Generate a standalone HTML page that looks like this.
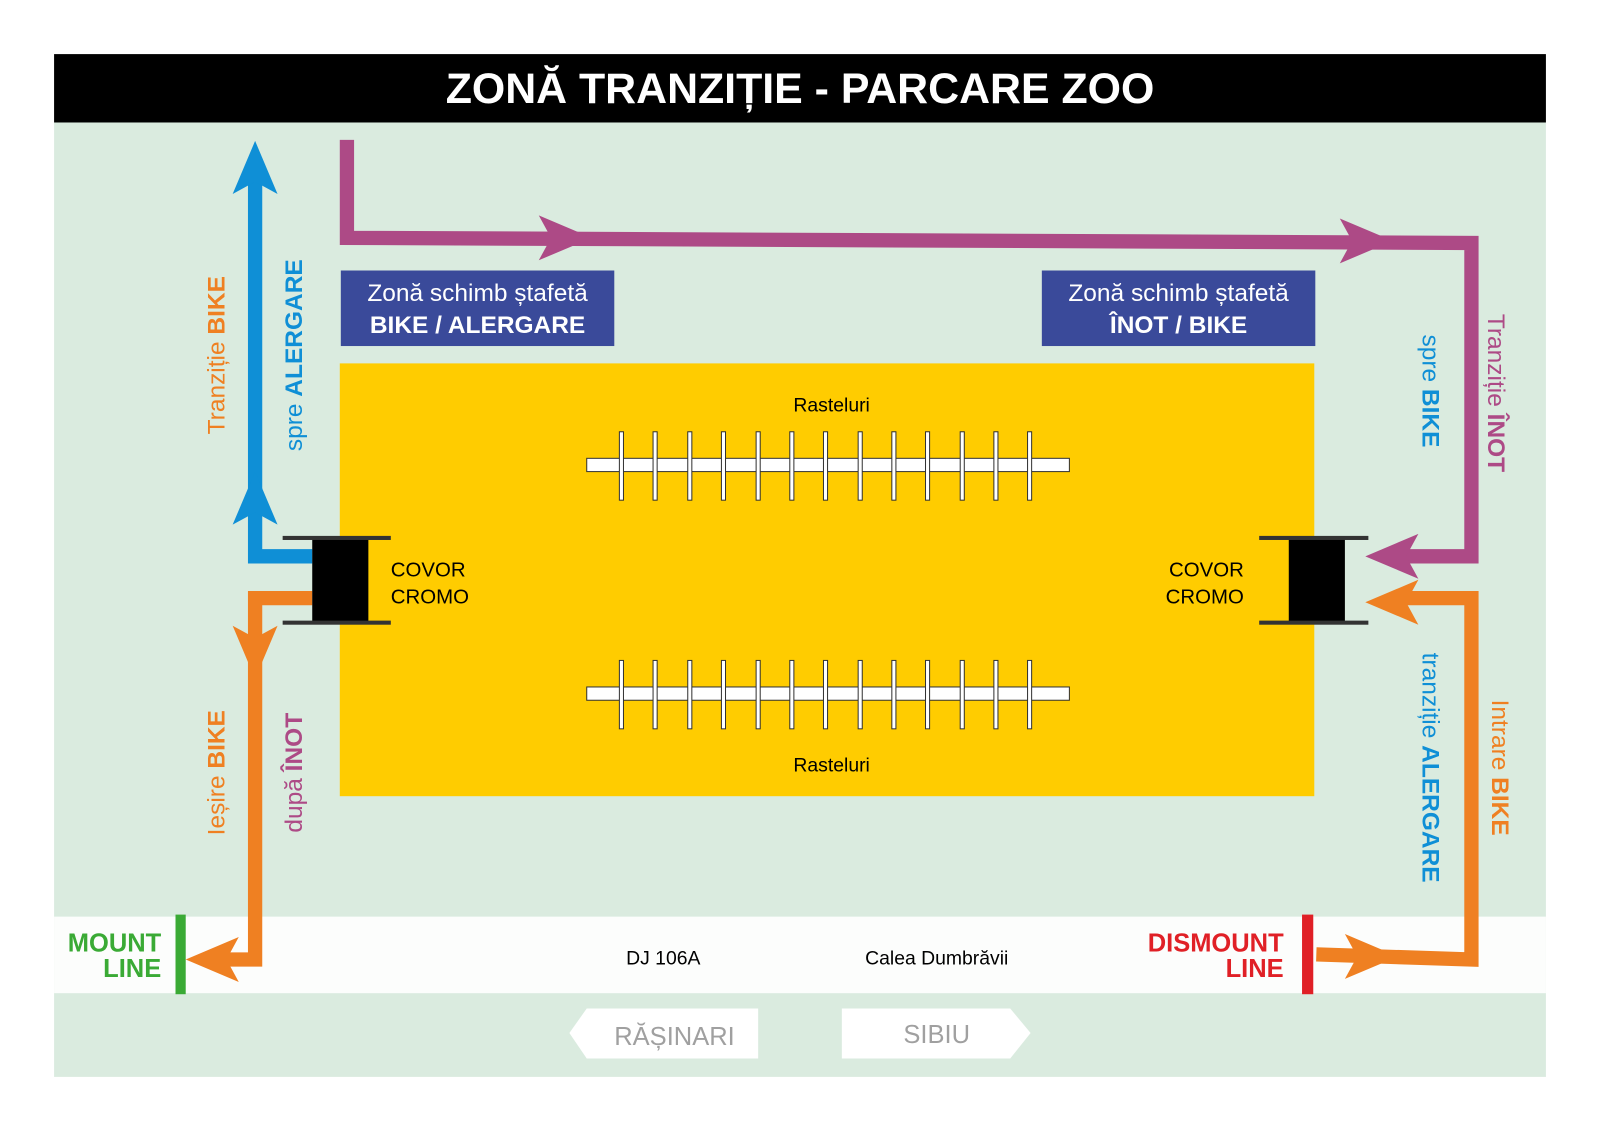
<!DOCTYPE html>
<html><head><meta charset="utf-8"><style>
html,body{margin:0;padding:0;background:#fff}
svg{display:block}
text{font-family:"Liberation Sans",sans-serif}
</style></head><body>
<svg width="1600" height="1131" viewBox="0 0 1568 1108" preserveAspectRatio="none" xmlns="http://www.w3.org/2000/svg">
<defs>
<polygon id="ah" points="0,0 22,52 0,40 -22,52" />
</defs>
<rect width="1568" height="1108" fill="#fff"/>
<rect x="53" y="120" width="1462" height="935" fill="#daebdf"/>
<rect x="53" y="53" width="1462" height="67" fill="#000"/>
<text x="784" y="101" font-size="42" font-weight="bold" fill="#fff" text-anchor="middle">ZONĂ TRANZIȚIE - PARCARE ZOO</text>
<rect x="53" y="898" width="1462" height="75" fill="#fcfdfc"/>
<rect x="333" y="356" width="955" height="424" fill="#ffcc00"/>
<rect x="334" y="265" width="268" height="74" fill="#3a4a9a"/>
<rect x="1021" y="265" width="268" height="74" fill="#3a4a9a"/>
<g fill="#fff" font-size="24" text-anchor="middle">
<text x="468" y="295">Zonă schimb ștafetă</text>
<text x="468" y="326" font-weight="bold">BIKE / ALERGARE</text>
<text x="1155" y="295">Zonă schimb ștafetă</text>
<text x="1155" y="326" font-weight="bold">ÎNOT / BIKE</text>
</g>
<g fill="#fff" stroke="#333" stroke-width="1">
<rect x="575" y="449" width="473" height="13"/>
<rect x="575" y="673" width="473" height="13"/>
<g id="posts">
<rect x="607" y="423" width="4" height="67"/><rect x="640" y="423" width="4" height="67"/><rect x="674" y="423" width="4" height="67"/><rect x="707" y="423" width="4" height="67"/><rect x="741" y="423" width="4" height="67"/><rect x="774" y="423" width="4" height="67"/><rect x="807" y="423" width="4" height="67"/><rect x="841" y="423" width="4" height="67"/><rect x="874" y="423" width="4" height="67"/><rect x="907" y="423" width="4" height="67"/><rect x="941" y="423" width="4" height="67"/><rect x="974" y="423" width="4" height="67"/><rect x="1007" y="423" width="4" height="67"/>
</g>
<use href="#posts" y="224"/>
</g>
<g font-size="19" text-anchor="middle" fill="#000">
<text x="815" y="403">Rasteluri</text>
<text x="815" y="756">Rasteluri</text>
</g>
<g fill="none" stroke-width="14">
<polyline points="306,545 250,545 250,175" stroke="#0f8fd6"/>
<polyline points="306,586 250,586 250,940 210,940" stroke="#ef8022"/>
<polyline points="340,137 340,233 1442,238 1442,545 1370,545" stroke="#ad4a86"/>
<polyline points="1370,586 1442,586 1442,940 1290,935" stroke="#ef8022"/>
</g>
<g fill="#0f8fd6">
<use href="#ah" transform="translate(250,138)"/>
<use href="#ah" transform="translate(250,462)"/>
</g>
<g fill="#ef8022">
<use href="#ah" transform="translate(250,665) rotate(180)"/>
<use href="#ah" transform="translate(182,940) rotate(-90)"/>
<use href="#ah" transform="translate(1338,590) rotate(-90)"/>
<use href="#ah" transform="translate(1370,937) rotate(90)"/>
</g>
<g fill="#ad4a86">
<use href="#ah" transform="translate(580,233) rotate(90)"/>
<use href="#ah" transform="translate(1365,236) rotate(90)"/>
<use href="#ah" transform="translate(1338,545) rotate(-90)"/>
</g>
<rect x="306" y="527" width="55" height="83" fill="#000"/>
<rect x="277" y="525" width="106" height="4" fill="#333"/>
<rect x="277" y="608" width="106" height="4" fill="#333"/>
<rect x="1263" y="527" width="55" height="83" fill="#000"/>
<rect x="1234" y="525" width="107" height="4" fill="#333"/>
<rect x="1234" y="608" width="107" height="4" fill="#333"/>
<g font-size="20" fill="#000">
<text x="383" y="565">COVOR</text><text x="383" y="591">CROMO</text>
<text x="1219" y="565" text-anchor="end">COVOR</text><text x="1219" y="591" text-anchor="end">CROMO</text>
</g>
<rect x="172" y="896" width="10" height="78" fill="#3aaa35"/>
<rect x="1276" y="896" width="11" height="78" fill="#e02026"/>
<g font-size="25" font-weight="bold" text-anchor="end">
<text x="158" y="932" fill="#3aaa35">MOUNT</text><text x="158" y="957" fill="#3aaa35">LINE</text>
<text x="1258" y="932" fill="#e02026">DISMOUNT</text><text x="1258" y="957" fill="#e02026">LINE</text>
</g>
<g font-size="19" fill="#000" text-anchor="middle">
<text x="650" y="945">DJ 106A</text>
<text x="918" y="945">Calea Dumbrăvii</text>
</g>
<polygon points="575,988 743,988 743,1037 575,1037 558,1012" fill="#fff"/>
<polygon points="825,988 990,988 1010,1012 990,1037 825,1037" fill="#fff"/>
<g font-size="25" fill="#a0a0a0" text-anchor="middle">
<text x="661" y="1024">RĂȘINARI</text>
<text x="918" y="1022">SIBIU</text>
</g>
<g font-size="24" text-anchor="middle">
<text transform="translate(220,348) rotate(-90)" fill="#ef8022">Tranziție <tspan font-weight="bold">BIKE</tspan></text>
<text transform="translate(296,348) rotate(-90)" fill="#0f8fd6">spre <tspan font-weight="bold">ALERGARE</tspan></text>
<text transform="translate(220,757) rotate(-90)" fill="#ef8022">Ieșire <tspan font-weight="bold">BIKE</tspan></text>
<text transform="translate(296,757) rotate(-90)" fill="#ad4a86">după <tspan font-weight="bold">ÎNOT</tspan></text>
<text transform="translate(1394,383) rotate(90)" fill="#0f8fd6">spre <tspan font-weight="bold">BIKE</tspan></text>
<text transform="translate(1458,385) rotate(90)" fill="#ad4a86">Tranziție <tspan font-weight="bold">ÎNOT</tspan></text>
<text transform="translate(1394,752) rotate(90)" fill="#0f8fd6">tranziție <tspan font-weight="bold">ALERGARE</tspan></text>
<text transform="translate(1462,752) rotate(90)" fill="#ef8022">Intrare <tspan font-weight="bold">BIKE</tspan></text>
</g>
</svg>
</body></html>
